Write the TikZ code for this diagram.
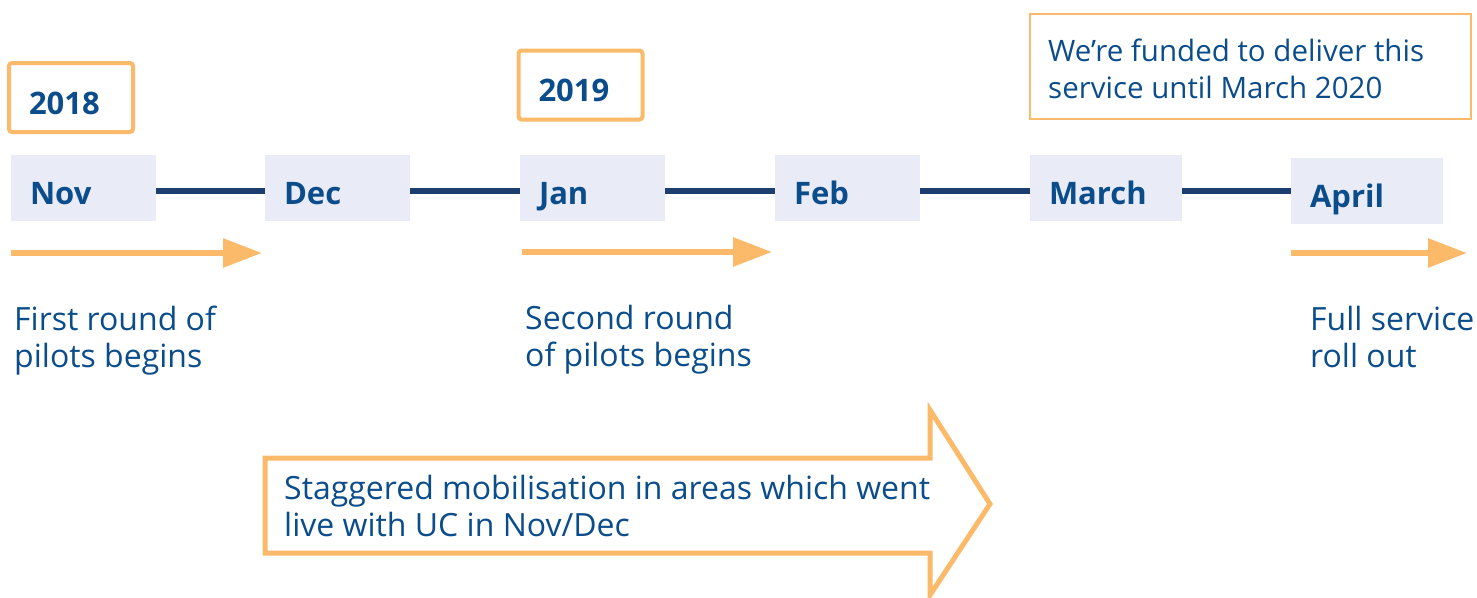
\documentclass[tikz,border=0pt]{standalone}
\usepackage{fontspec}
\setmainfont{Open Sans}
\usetikzlibrary{arrows.meta}
\definecolor{navytext}{HTML}{0B4D8B}
\definecolor{navyline}{HTML}{1C3F70}
\definecolor{amber}{HTML}{FBBA6A}
\definecolor{lavender}{HTML}{E9ECF6}
\tikzset{
  monthbox/.style={fill=lavender, inner ysep=0pt, inner xsep=19pt, align=left,
    minimum height=66pt, text height=32pt, text depth=0pt,
    text=navytext, font=\fontsize{31}{37}\selectfont\bfseries},
  yearbox/.style={draw=amber, line width=4pt, rounded corners=3pt, fill=white,
    inner ysep=0pt, inner xsep=20pt, text width=84pt, align=left,
    minimum height=69pt, text height=33pt, text depth=0pt,
    text=navytext, font=\fontsize{31}{37}\selectfont\bfseries},
  link/.style={draw=navyline, line width=6pt},
  span/.style={draw=amber, line width=6pt, -{Triangle[length=39pt,width=28pt]}},
  lbl/.style={anchor=base west, inner sep=0pt, align=left, text=navytext,
    font=\fontsize{32}{37}\selectfont},
  note/.style={lbl, font=\fontsize{29.5}{37}\selectfont},
  fundbox/.style={draw=amber, line width=2pt, minimum width=441pt, minimum height=105pt, inner sep=0pt},
  bigarrow/.style={draw=amber, line width=5pt, line join=miter, fill=white},
}
\begin{document}
\begin{tikzpicture}[x=1pt, y=-1pt]
\useasboundingbox (0,0) rectangle (1477,597);

% year markers
\node[yearbox] (y2018) at (71,97.5) {2018};
\node[yearbox] (y2019) at (580.5,85) {2019};

% funding note (base anchor sits on the last line)
\node[fundbox] (fund) at (1250.5,66.5) {};
\node[note] (fundtxt) at (1048,98) {We’re funded to deliver this\\service until March 2020};

% month boxes
\node[monthbox, text width=107pt] (nov) at (83.5,188) {Nov};
\node[monthbox, text width=107pt] (dec) at (337.5,188) {Dec};
\node[monthbox, text width=107pt] (jan) at (592.5,188) {Jan};
\node[monthbox, text width=107pt] (feb) at (847.5,188) {Feb};
\node[monthbox, text width=114pt] (mar) at (1106,188) {March};
\node[monthbox, text width=114pt] (apr) at (1367,191) {April};

% timeline links
\draw[link] ([yshift=-3pt]nov.east) -- ([yshift=-3pt]dec.west);
\draw[link] ([yshift=-3pt]dec.east) -- ([yshift=-3pt]jan.west);
\draw[link] ([yshift=-3pt]jan.east) -- ([yshift=-3pt]feb.west);
\draw[link] ([yshift=-3pt]feb.east) -- ([yshift=-3pt]mar.west);
\draw[link] (mar.east |- apr.west) -- (apr.west);

% phase arrows
\coordinate (a1s) at (11,253);  \coordinate (a1e) at (262,253);
\coordinate (a2s) at (522,252); \coordinate (a2e) at (772,252);
\coordinate (a3s) at (1291,253); \coordinate (a3e) at (1467,253);
\draw[span] (a1s) -- (a1e);
\draw[span] (a2s) -- (a2e);
\draw[span] (a3s) -- (a3e);

% phase labels
\node[lbl] (first) at (14,367) {First round of\\pilots begins};
\node[lbl] (second) at (525,366) {Second round\\of pilots begins};
\node[lbl] (full) at (1310,367) {Full service\\roll out};

% mobilisation block arrow
\draw[bigarrow] (265,458) -- (930,458) -- (930,410) -- (990,504) -- (930,595)
  -- (930,553) -- (265,553) -- cycle;
\node[lbl] (mobil) at (284,536) {Staggered mobilisation in areas which went\\live with UC in Nov/Dec};
\end{tikzpicture}
\end{document}
